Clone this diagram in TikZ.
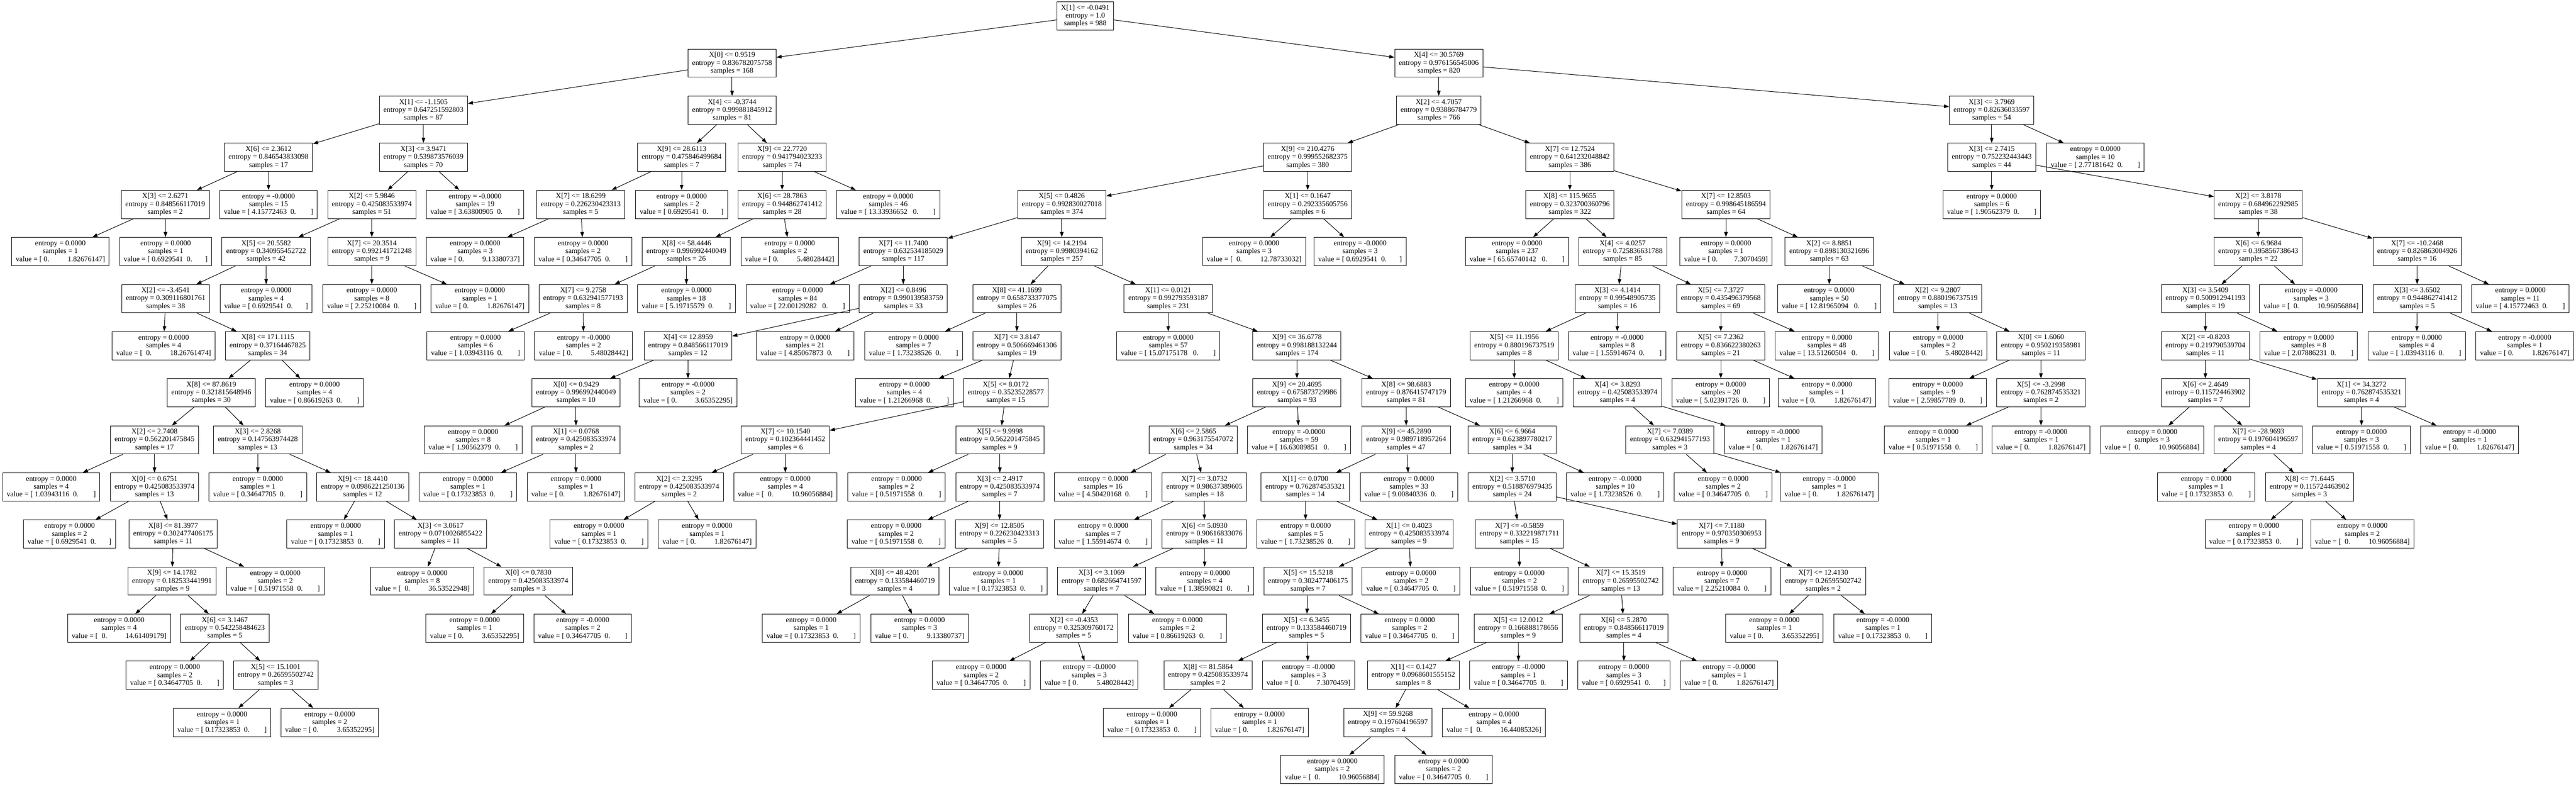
\documentclass[tikz,border=0pt]{standalone}
\usepackage{fontspec}
\setmainfont{Liberation Serif}
\usetikzlibrary{arrows.meta}
\newcommand\tsplit[3]{#1\\entropy = #2\\samples = #3}
\newcommand\tleafa[3]{entropy = #1\\samples = #2\\value = [~#3~~0.~~~~~~~~]}
\newcommand\tleafb[3]{entropy = #1\\samples = #2\\value = [~#3~~0.~~~~~~~]}
\newcommand\tleafc[3]{entropy = #1\\samples = #2\\value = [~#3~~~0.~~~~~~~~]}
\newcommand\tleafd[3]{entropy = #1\\samples = #2\\value = [~0.~~~~~~~~~~#3]}
\newcommand\tleafe[3]{entropy = #1\\samples = #2\\value = [~0.~~~~~~~~~#3]}
\newcommand\tleaff[3]{entropy = #1\\samples = #2\\value = [~~0.~~~~~~~~~~#3]}
\begin{document}
\begin{tikzpicture}[x=1pt,y=-118.5pt,
  box/.style={draw, line width=1.3pt, fill=white, rectangle, minimum height=71pt,
    inner xsep=10.5pt, inner ysep=2pt, align=center,
    font=\fontsize{18.5}{19.8}\selectfont},
  edge/.style={line width=1.3pt, -{Triangle[length=13pt,width=9pt]}}]
\fill[white] (0,-0.34177) rectangle (6485,16.3671);
\useasboundingbox (0,-0.34177) rectangle (6485,16.3671);
% level 0
\node[box] (r) at (2732,0) {\tsplit{X[1] <= -0.0491}{1.0}{988}};
% level 1
\node[box] (a) at (1843,1) {\tsplit{X[0] <= 0.9519}{0.836782075758}{168}};
\node[box] (b) at (3622,1) {\tsplit{X[4] <= 30.5769}{0.976156545006}{820}};
% level 2
\node[box] (aa) at (1066,2) {\tsplit{X[1] <= -1.1505}{0.647251592803}{87}};
\node[box] (ab) at (1843,2) {\tsplit{X[4] <= -0.3744}{0.999881845912}{81}};
\node[box] (ba) at (3622,2) {\tsplit{X[2] <= 4.7057}{0.93886784779}{766}};
\node[box] (bb) at (5014,2) {\tsplit{X[3] <= 3.7969}{0.82636033597}{54}};
% level 3
\node[box] (c1) at (676,3) {\tsplit{X[6] <= 2.3612}{0.846543833098}{17}};
\node[box] (c2) at (1066,3) {\tsplit{X[3] <= 3.9471}{0.539873576039}{70}};
\node[box] (c3) at (1716,3) {\tsplit{X[9] <= 28.6113}{0.475846499684}{7}};
\node[box] (c4) at (1969,3) {\tsplit{X[9] <= 22.7720}{0.941794023233}{74}};
\node[box] (c5) at (3292,3) {\tsplit{X[9] <= 210.4276}{0.999552682375}{380}};
\node[box] (c6) at (3952,3) {\tsplit{X[7] <= 12.7524}{0.641232048842}{386}};
\node[box] (c7) at (5014,3) {\tsplit{X[3] <= 2.7415}{0.752232443443}{44}};
\node[box] (c8) at (5275,3) {\tleafa{0.0000}{10}{2.77181642}};
% level 4
\node[box] (d1) at (416,4) {\tsplit{X[3] <= 2.6271}{0.848566117019}{2}};
\node[box] (d2) at (676,4) {\tleafa{-0.0000}{15}{4.15772463}};
\node[box] (d3) at (936,4) {\tsplit{X[2] <= 5.9846}{0.425083533974}{51}};
\node[box] (d4) at (1196,4) {\tleafa{-0.0000}{19}{3.63800905}};
\node[box] (d5) at (1462,4) {\tsplit{X[7] <= 18.6299}{0.226230423313}{5}};
\node[box] (d6) at (1716,4) {\tleafb{0.0000}{2}{0.6929541}};
\node[box] (d7) at (1969,4) {\tsplit{X[6] <= 28.7863}{0.944862741412}{28}};
\node[box] (d8) at (2236,4) {\tleafc{0.0000}{46}{13.33936652}};
\node[box] (d9) at (2673,4) {\tsplit{X[5] <= 0.4826}{0.992830027018}{374}};
\node[box] (d10) at (3292,4) {\tsplit{X[1] <= 0.1647}{0.292335605756}{6}};
\node[box] (d11) at (3952,4) {\tsplit{X[8] <= 115.9655}{0.323700360796}{322}};
\node[box] (d12) at (4345,4) {\tsplit{X[7] <= 12.8503}{0.998645186594}{64}};
\node[box] (d13) at (5014,4) {\tleafa{0.0000}{6}{1.90562379}};
\node[box] (d14) at (5685,4) {\tsplit{X[2] <= 3.8178}{0.684962292985}{38}};
% level 5
\node[box] (e1) at (152,5) {\tleafd{0.0000}{1}{1.82676147}};
\node[box] (e2) at (417,5) {\tleafb{0.0000}{1}{0.6929541}};
\node[box] (e3) at (670,5) {\tsplit{X[5] <= 20.5582}{0.340955452722}{42}};
\node[box] (e4) at (936,5) {\tsplit{X[7] <= 20.3514}{0.992141721248}{9}};
\node[box] (e5) at (1196,5) {\tleafd{0.0000}{3}{9.13380737}};
\node[box] (e6) at (1468,5) {\tleafa{0.0000}{2}{0.34647705}};
\node[box] (e7) at (1728,5) {\tsplit{X[8] <= 58.4446}{0.996992440049}{26}};
\node[box] (e8) at (1988,5) {\tleafd{0.0000}{2}{5.48028442}};
\node[box] (e9) at (2274,5) {\tsplit{X[7] <= 11.7400}{0.632534185029}{117}};
\node[box] (e10) at (2673,5) {\tsplit{X[9] <= 14.2194}{0.9980394162}{257}};
\node[box] (e11) at (3157,5) {\tleaff{0.0000}{3}{12.78733032}};
\node[box] (e12) at (3424,5) {\tleafb{-0.0000}{3}{0.6929541}};
\node[box] (e13) at (3819,5) {\tleafc{0.0000}{237}{65.65740142}};
\node[box] (e14) at (4085,5) {\tsplit{X[4] <= 4.0257}{0.725836631788}{85}};
\node[box] (e15) at (4345,5) {\tleafe{0.0000}{1}{7.3070459}};
\node[box] (e16) at (4605,5) {\tsplit{X[2] <= 8.8851}{0.898130321696}{63}};
\node[box] (e17) at (5685,5) {\tsplit{X[6] <= 6.9684}{0.395856738643}{22}};
\node[box] (e18) at (6085,5) {\tsplit{X[7] <= -10.2468}{0.826863004926}{16}};
% level 6
\node[box] (f1) at (417,6) {\tsplit{X[2] <= -3.4541}{0.309116801761}{38}};
\node[box] (f2) at (670,6) {\tleafb{0.0000}{4}{0.6929541}};
\node[box] (f3) at (936,6) {\tleafa{0.0000}{8}{2.25210084}};
\node[box] (f4) at (1208,6) {\tleafd{0.0000}{1}{1.82676147}};
\node[box] (f5) at (1468,6) {\tsplit{X[7] <= 9.2758}{0.632941577193}{8}};
\node[box] (f6) at (1728,6) {\tleafa{0.0000}{18}{5.19715579}};
\node[box] (f7) at (2008,6) {\tleafc{0.0000}{84}{22.00129282}};
\node[box] (f8) at (2274,6) {\tsplit{X[2] <= 0.8496}{0.990139583759}{33}};
\node[box] (f9) at (2560,6) {\tsplit{X[8] <= 41.1699}{0.658733377075}{26}};
\node[box] (f10) at (2941,6) {\tsplit{X[1] <= 0.0121}{0.992793593187}{231}};
\node[box] (f11) at (4072,6) {\tsplit{X[3] <= 4.1414}{0.99548905735}{16}};
\node[box] (f12) at (4332,6) {\tsplit{X[5] <= 7.3727}{0.435496379568}{69}};
\node[box] (f13) at (4605,6) {\tleafc{0.0000}{50}{12.81965094}};
\node[box] (f14) at (4878,6) {\tsplit{X[2] <= 9.2807}{0.880196737519}{13}};
\node[box] (f15) at (5552,6) {\tsplit{X[3] <= 3.5409}{0.500912941193}{19}};
\node[box] (f16) at (5818,6) {\tleaff{-0.0000}{3}{10.96056884}};
\node[box] (f17) at (6085,6) {\tsplit{X[3] <= 3.6502}{0.944862741412}{5}};
\node[box] (f18) at (6345,6) {\tleafa{0.0000}{11}{4.15772463}};
% level 7
\node[box] (g1) at (412,7) {\tleaff{0.0000}{4}{18.26761474}};
\node[box] (g2) at (674,7) {\tsplit{X[8] <= 171.1115}{0.37164467825}{34}};
\node[box] (g3) at (1197,7) {\tleafa{0.0000}{6}{1.03943116}};
\node[box] (g4) at (1469,7) {\tleafd{-0.0000}{2}{5.48028442}};
\node[box] (g5) at (1732,7) {\tsplit{X[4] <= 12.8959}{0.848566117019}{12}};
\node[box] (g6) at (2027,7) {\tleafa{0.0000}{21}{4.85067873}};
\node[box] (g7) at (2300,7) {\tleafa{0.0000}{7}{1.73238526}};
\node[box] (g8) at (2560,7) {\tsplit{X[7] <= 3.8147}{0.506669461306}{19}};
\node[box] (g9) at (2941,7) {\tleafc{0.0000}{57}{15.07175178}};
\node[box] (g10) at (3265,7) {\tsplit{X[9] <= 36.6778}{0.998188132244}{174}};
\node[box] (g11) at (3812,7) {\tsplit{X[5] <= 11.1956}{0.880196737519}{8}};
\node[box] (g12) at (4071,7) {\tleafa{-0.0000}{8}{1.55914674}};
\node[box] (g13) at (4332,7) {\tsplit{X[5] <= 7.2362}{0.836622380263}{21}};
\node[box] (g14) at (4599,7) {\tleafc{0.0000}{48}{13.51260504}};
\node[box] (g15) at (4879,7) {\tleafd{0.0000}{2}{5.48028442}};
\node[box] (g16) at (5138,7) {\tsplit{X[0] <= 1.6060}{0.950219358981}{11}};
\node[box] (g17) at (5552,7) {\tsplit{X[2] <= -0.8203}{0.219790539704}{11}};
\node[box] (g18) at (5812,7) {\tleafa{0.0000}{8}{2.07886231}};
\node[box] (g19) at (6084,7) {\tleafa{0.0000}{4}{1.03943116}};
\node[box] (g20) at (6356,7) {\tleafd{-0.0000}{1}{1.82676147}};
% level 8
\node[box] (h1) at (532,8) {\tsplit{X[8] <= 87.8619}{0.321815648946}{30}};
\node[box] (h2) at (792,8) {\tleafa{0.0000}{4}{0.86619263}};
\node[box] (h3) at (1450,8) {\tsplit{X[0] <= 0.9429}{0.996992440049}{10}};
\node[box] (h4) at (1732,8) {\tleafd{-0.0000}{2}{3.65352295}};
\node[box] (h5) at (2277,8) {\tleafa{0.0000}{4}{1.21266968}};
\node[box] (h6) at (2532,8) {\tsplit{X[5] <= 8.0172}{0.35235228577}{15}};
\node[box] (h7) at (3265,8) {\tsplit{X[9] <= 20.4695}{0.675873729986}{93}};
\node[box] (h8) at (3540,8) {\tsplit{X[8] <= 98.6883}{0.876415747179}{81}};
\node[box] (h9) at (3812,8) {\tleafa{0.0000}{4}{1.21266968}};
\node[box] (h10) at (4072,8) {\tsplit{X[4] <= 3.8293}{0.425083533974}{4}};
\node[box] (h11) at (4332,8) {\tleafa{0.0000}{20}{5.02391726}};
\node[box] (h12) at (4599,8) {\tleafd{0.0000}{1}{1.82676147}};
\node[box] (h13) at (4878,8) {\tleafa{0.0000}{9}{2.59857789}};
\node[box] (h14) at (5138,8) {\tsplit{X[5] <= -3.2998}{0.762874535321}{2}};
\node[box] (h15) at (5552,8) {\tsplit{X[6] <= 2.4649}{0.115724463902}{7}};
\node[box] (h16) at (5945,8) {\tsplit{X[1] <= 34.3272}{0.762874535321}{4}};
% level 9
\node[box] (i1) at (389,9) {\tsplit{X[2] <= 2.7408}{0.562201475845}{17}};
\node[box] (i2) at (649,9) {\tsplit{X[3] <= 2.8268}{0.147563974428}{13}};
\node[box] (i3) at (1191,9) {\tleafa{0.0000}{8}{1.90562379}};
\node[box] (i4) at (1450,9) {\tsplit{X[1] <= 0.0768}{0.425083533974}{2}};
\node[box] (i5) at (1977,9) {\tsplit{X[7] <= 10.1540}{0.102364441452}{6}};
\node[box] (i6) at (2517,9) {\tsplit{X[5] <= 9.9998}{0.562201475845}{9}};
\node[box] (i7) at (3004,9) {\tsplit{X[6] <= 2.5865}{0.963175547072}{34}};
\node[box] (i8) at (3270,9) {\tleafc{-0.0000}{59}{16.63089851}};
\node[box] (i9) at (3540,9) {\tsplit{X[9] <= 45.2890}{0.989718957264}{47}};
\node[box] (i10) at (3807,9) {\tsplit{X[6] <= 6.9664}{0.623897780217}{34}};
\node[box] (i11) at (4204,9) {\tsplit{X[7] <= 7.0389}{0.632941577193}{3}};
\node[box] (i12) at (4464,9) {\tleafd{-0.0000}{1}{1.82676147}};
\node[box] (i13) at (4867,9) {\tleafa{0.0000}{1}{0.51971558}};
\node[box] (i14) at (5138,9) {\tleafd{-0.0000}{1}{1.82676147}};
\node[box] (i15) at (5418,9) {\tleaff{0.0000}{3}{10.96056884}};
\node[box] (i16) at (5685,9) {\tsplit{X[7] <= -28.9693}{0.197604196597}{4}};
\node[box] (i17) at (5945,9) {\tleafa{0.0000}{3}{0.51971558}};
\node[box] (i18) at (6217,9) {\tleafd{-0.0000}{1}{1.82676147}};
% level 10
\node[box] (j1) at (129,10) {\tleafa{0.0000}{4}{1.03943116}};
\node[box] (j2) at (389,10) {\tsplit{X[0] <= 0.6751}{0.425083533974}{13}};
\node[box] (j3) at (649,10) {\tleafa{0.0000}{1}{0.34647705}};
\node[box] (j4) at (913,10) {\tsplit{X[9] <= 18.4410}{0.0986221250136}{12}};
\node[box] (j5) at (1178,10) {\tleafa{0.0000}{1}{0.17323853}};
\node[box] (j6) at (1450,10) {\tleafd{0.0000}{1}{1.82676147}};
\node[box] (j7) at (1710,10) {\tsplit{X[2] <= 2.3295}{0.425083533974}{2}};
\node[box] (j8) at (1977,10) {\tleaff{0.0000}{4}{10.96056884}};
\node[box] (j9) at (2257,10) {\tleafa{0.0000}{2}{0.51971558}};
\node[box] (j10) at (2517,10) {\tsplit{X[3] <= 2.4917}{0.425083533974}{7}};
\node[box] (j11) at (2777,10) {\tleafa{0.0000}{16}{4.50420168}};
\node[box] (j12) at (3032,10) {\tsplit{X[7] <= 3.0732}{0.98637389605}{18}};
\node[box] (j13) at (3286,10) {\tsplit{X[1] <= 0.0700}{0.762874535321}{14}};
\node[box] (j14) at (3547,10) {\tleafa{0.0000}{33}{9.00840336}};
\node[box] (j15) at (3807,10) {\tsplit{X[2] <= 3.5710}{0.518876979435}{24}};
\node[box] (j16) at (4066,10) {\tleafa{-0.0000}{10}{1.73238526}};
\node[box] (j17) at (4338,10) {\tleafa{0.0000}{2}{0.34647705}};
\node[box] (j18) at (4605,10) {\tleafd{-0.0000}{1}{1.82676147}};
\node[box] (j19) at (5554,10) {\tleafa{0.0000}{1}{0.17323853}};
\node[box] (j20) at (5814,10) {\tsplit{X[8] <= 71.6445}{0.115724463902}{3}};
% level 11
\node[box] (k1) at (175,11) {\tleafb{0.0000}{2}{0.6929541}};
\node[box] (k2) at (436,11) {\tsplit{X[8] <= 81.3977}{0.302477406175}{11}};
\node[box] (k3) at (845,11) {\tleafa{0.0000}{1}{0.17323853}};
\node[box] (k4) at (1109,11) {\tsplit{X[3] <= 3.0617}{0.0710026855422}{11}};
\node[box] (k5) at (1508,11) {\tleafa{0.0000}{1}{0.17323853}};
\node[box] (k6) at (1780,11) {\tleafd{0.0000}{1}{1.82676147}};
\node[box] (k7) at (2256,11) {\tleafa{0.0000}{2}{0.51971558}};
\node[box] (k8) at (2516,11) {\tsplit{X[9] <= 12.8505}{0.226230423313}{5}};
\node[box] (k9) at (2777,11) {\tleafa{0.0000}{7}{1.55914674}};
\node[box] (k10) at (3032,11) {\tsplit{X[6] <= 5.0930}{0.90616833076}{11}};
\node[box] (k11) at (3287,11) {\tleafa{0.0000}{5}{1.73238526}};
\node[box] (k12) at (3547,11) {\tsplit{X[1] <= 0.4023}{0.425083533974}{9}};
\node[box] (k13) at (3825,11) {\tsplit{X[7] <= -0.5859}{0.332219871711}{15}};
\node[box] (k14) at (4334,11) {\tsplit{X[7] <= 7.1180}{0.970350306953}{9}};
\node[box] (k15) at (5674,11) {\tleafa{0.0000}{1}{0.17323853}};
\node[box] (k16) at (5947,11) {\tleaff{0.0000}{2}{10.96056884}};
% level 12
\node[box] (l1) at (433,12) {\tsplit{X[9] <= 14.1782}{0.182533441991}{9}};
\node[box] (l2) at (693,12) {\tleafa{0.0000}{2}{0.51971558}};
\node[box] (l3) at (1063,12) {\tleaff{0.0000}{8}{36.53522948}};
\node[box] (l4) at (1330,12) {\tsplit{X[0] <= 0.7830}{0.425083533974}{3}};
\node[box] (l5) at (2253,12) {\tsplit{X[8] <= 48.4201}{0.133584460719}{4}};
\node[box] (l6) at (2513,12) {\tleafa{0.0000}{1}{0.17323853}};
\node[box] (l7) at (2773,12) {\tsplit{X[3] <= 3.1069}{0.682664741597}{7}};
\node[box] (l8) at (3033,12) {\tleafa{0.0000}{4}{1.38590821}};
\node[box] (l9) at (3293,12) {\tsplit{X[5] <= 15.5218}{0.302477406175}{7}};
\node[box] (l10) at (3552,12) {\tleafa{0.0000}{2}{0.34647705}};
\node[box] (l11) at (3825,12) {\tleafa{0.0000}{2}{0.51971558}};
\node[box] (l12) at (4080,12) {\tsplit{X[7] <= 15.3519}{0.26595502742}{13}};
\node[box] (l13) at (4335,12) {\tleafa{0.0000}{7}{2.25210084}};
\node[box] (l14) at (4590,12) {\tsplit{X[7] <= 12.4130}{0.26595502742}{2}};
% level 13
\node[box] (m1) at (300,13) {\tleaff{0.0000}{4}{14.61409179}};
\node[box] (m2) at (566,13) {\tsplit{X[6] <= 3.1467}{0.542258484623}{5}};
\node[box] (m3) at (1195,13) {\tleafd{0.0000}{1}{3.65352295}};
\node[box] (m4) at (1467,13) {\tleafa{-0.0000}{2}{0.34647705}};
\node[box] (m5) at (2042,13) {\tleafa{0.0000}{1}{0.17323853}};
\node[box] (m6) at (2315,13) {\tleafd{0.0000}{3}{9.13380737}};
\node[box] (m7) at (2703,13) {\tsplit{X[2] <= -0.4353}{0.325309760172}{5}};
\node[box] (m8) at (2964,13) {\tleafa{0.0000}{2}{0.86619263}};
\node[box] (m9) at (3289,13) {\tsplit{X[5] <= 6.3455}{0.133584460719}{5}};
\node[box] (m10) at (3549,13) {\tleafa{0.0000}{2}{0.34647705}};
\node[box] (m11) at (3822,13) {\tsplit{X[5] <= 12.0012}{0.166888178656}{9}};
\node[box] (m12) at (4088,13) {\tsplit{X[6] <= 5.2870}{0.848566117019}{4}};
\node[box] (m13) at (4467,13) {\tleafd{0.0000}{1}{3.65352295}};
\node[box] (m14) at (4740,13) {\tleafa{-0.0000}{1}{0.17323853}};
% level 14
\node[box] (n1) at (440,14) {\tleafa{0.0000}{2}{0.34647705}};
\node[box] (n2) at (694,14) {\tsplit{X[5] <= 15.1001}{0.26595502742}{3}};
\node[box] (n3) at (2470,14) {\tleafa{0.0000}{2}{0.34647705}};
\node[box] (n4) at (2742,14) {\tleafd{-0.0000}{3}{5.48028442}};
\node[box] (n5) at (3041,14) {\tsplit{X[8] <= 81.5864}{0.425083533974}{2}};
\node[box] (n6) at (3294,14) {\tleafe{-0.0000}{3}{7.3070459}};
\node[box] (n7) at (3558,14) {\tsplit{X[1] <= 0.1427}{0.0968601555152}{8}};
\node[box] (n8) at (3823,14) {\tleafa{-0.0000}{1}{0.34647705}};
\node[box] (n9) at (4088,14) {\tleafb{0.0000}{3}{0.6929541}};
\node[box] (n10) at (4353,14) {\tleafd{-0.0000}{1}{1.82676147}};
% level 15
\node[box] (o1) at (559,15) {\tleafa{0.0000}{1}{0.17323853}};
\node[box] (o2) at (830,15) {\tleafd{0.0000}{2}{3.65352295}};
\node[box] (o3) at (2900,15) {\tleafa{0.0000}{1}{0.17323853}};
\node[box] (o4) at (3171,15) {\tleafd{0.0000}{1}{1.82676147}};
\node[box] (o5) at (3494,15) {\tsplit{X[9] <= 59.9268}{0.197604196597}{4}};
\node[box] (o6) at (3761,15) {\tleaff{0.0000}{4}{16.44085326}};
% level 16
\node[box] (p1) at (3354,16) {\tleaff{0.0000}{2}{10.96056884}};
\node[box] (p2) at (3634,16) {\tleafa{0.0000}{2}{0.34647705}};
% edges
\foreach \u/\v in {r/a, r/b, a/aa, a/ab, b/ba, b/bb,
  aa/c1, aa/c2, ab/c3, ab/c4, ba/c5, ba/c6, bb/c7, bb/c8,
  c1/d1, c1/d2, c2/d3, c2/d4, c3/d5, c3/d6, c4/d7, c4/d8, c5/d9, c5/d10,
  c6/d11, c6/d12, c7/d13, c7/d14,
  d1/e1, d1/e2, d3/e3, d3/e4, d5/e5, d5/e6, d7/e7, d7/e8, d9/e9, d9/e10,
  d10/e11, d10/e12, d11/e13, d11/e14, d12/e15, d12/e16, d14/e17, d14/e18,
  e3/f1, e3/f2, e4/f3, e4/f4, e7/f5, e7/f6, e9/f7, e9/f8, e10/f9, e10/f10,
  e14/f11, e14/f12, e16/f13, e16/f14, e17/f15, e17/f16, e18/f17, e18/f18,
  f1/g1, f1/g2, f5/g3, f5/g4, f8/g5, f8/g6, f9/g7, f9/g8, f10/g9, f10/g10,
  f11/g11, f11/g12, f12/g13, f12/g14, f14/g15, f14/g16, f15/g17, f15/g18,
  f17/g19, f17/g20,
  g2/h1, g2/h2, g5/h3, g5/h4, g8/h5, g8/h6, g10/h7, g10/h8, g11/h9, g11/h10,
  g13/h11, g13/h12, g16/h13, g16/h14, g17/h15, g17/h16,
  h1/i1, h1/i2, h3/i3, h3/i4, h6/i5, h6/i6, h7/i7, h7/i8, h8/i9, h8/i10,
  h10/i11, h10/i12, h14/i13, h14/i14, h15/i15, h15/i16, h16/i17, h16/i18,
  i1/j1, i1/j2, i2/j3, i2/j4, i4/j5, i4/j6, i5/j7, i5/j8, i6/j9, i6/j10,
  i7/j11, i7/j12, i9/j13, i9/j14, i10/j15, i10/j16, i11/j17, i11/j18,
  i16/j19, i16/j20,
  j2/k1, j2/k2, j4/k3, j4/k4, j7/k5, j7/k6, j10/k7, j10/k8, j12/k9, j12/k10,
  j13/k11, j13/k12, j15/k13, j15/k14, j20/k15, j20/k16,
  k2/l1, k2/l2, k4/l3, k4/l4, k8/l5, k8/l6, k10/l7, k10/l8, k12/l9, k12/l10,
  k13/l11, k13/l12, k14/l13, k14/l14,
  l1/m1, l1/m2, l4/m3, l4/m4, l5/m5, l5/m6, l7/m7, l7/m8, l9/m9, l9/m10,
  l12/m11, l12/m12, l14/m13, l14/m14,
  m2/n1, m2/n2, m7/n3, m7/n4, m9/n5, m9/n6, m11/n7, m11/n8, m12/n9, m12/n10,
  n2/o1, n2/o2, n5/o3, n5/o4, n7/o5, n7/o6,
  o5/p1, o5/p2}
  \draw[edge] (\u) -- (\v);
\end{tikzpicture}
\end{document}
